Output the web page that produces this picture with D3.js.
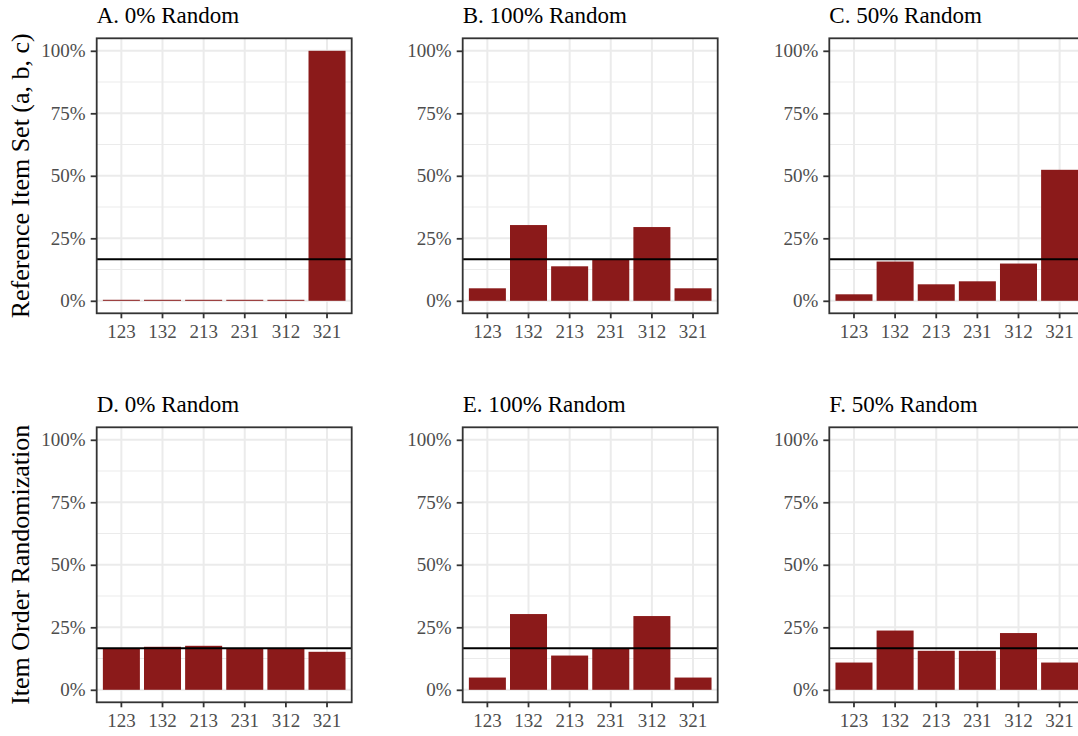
<!DOCTYPE html>
<html>
<head>
<meta charset="utf-8">
<script src="https://cdn.jsdelivr.net/npm/d3@7"></script>
<style>
  body { margin: 0; background: #fff; overflow: hidden; }
  text { font-family: "Liberation Serif", "DejaVu Serif", serif; }
</style>
</head>
<body>
<div id="chart"></div>
<script>
// orderings on the x axis
const categories = ["123", "132", "213", "231", "312", "321"];

// panel titles, row by row
const panelTitles = ["A. 0% Random", "B. 100% Random", "C. 50% Random",
                     "D. 0% Random", "E. 100% Random", "F. 50% Random"];
const rowTitles = ["Reference Item Set (a, b, c)", "Item Order Randomization"];

// share of responses per ordering
const valuesA = [0.004, 0.004, 0.004, 0.004, 0.004, 1.00];
const valuesB = [0.050, 0.303, 0.138, 0.164, 0.295, 0.050];
const valuesC = [0.026, 0.157, 0.066, 0.078, 0.149, 0.524];
const valuesD = [0.166, 0.172, 0.176, 0.166, 0.166, 0.152];
const valuesE = [0.049, 0.303, 0.137, 0.164, 0.295, 0.049];
const valuesF = [0.109, 0.237, 0.156, 0.156, 0.227, 0.109];
const panelValues = [valuesA, valuesB, valuesC, valuesD, valuesE, valuesF];

// uniform reference (1 of 6 orderings)
const refLine = 1 / 6;
const yTicks = [0, 0.25, 0.5, 0.75, 1];
const yMinor = [0.125, 0.375, 0.625, 0.875];

const W = 1078, H = 736;
const colX = [96.7, 462.7, 829.3];
const rowY = [38.3, 427.3];
const pw = 255, ph = 275;

const svg = d3.select("#chart")
    .append("svg")
    .attr("width", W)
    .attr("height", H);

const x = d3.scaleBand()
    .domain(categories)
    .range([0, pw])
    .paddingInner(0.1)
    .paddingOuter(0.15);

const y = d3.scaleLinear()
    .domain([-0.05, 1.05])
    .range([ph, 0]);

const fmt = d3.format(".0%");

panelValues.forEach((vals, i) => {
    const row = Math.floor(i / 3), col = i % 3;
    const g = svg.append("g")
        .attr("transform", `translate(${colX[col]},${rowY[row]})`);

    // grid
    g.selectAll(".minor").data(yMinor).enter().append("line")
        .attr("x1", 0).attr("x2", pw)
        .attr("y1", d => y(d)).attr("y2", d => y(d))
        .attr("stroke", "#ebebeb").attr("stroke-width", 1.1);
    g.selectAll(".majorY").data(yTicks).enter().append("line")
        .attr("x1", 0).attr("x2", pw)
        .attr("y1", d => y(d)).attr("y2", d => y(d))
        .attr("stroke", "#ebebeb").attr("stroke-width", 2);
    g.selectAll(".majorX").data(categories).enter().append("line")
        .attr("y1", 0).attr("y2", ph)
        .attr("x1", d => x(d) + x.bandwidth() / 2)
        .attr("x2", d => x(d) + x.bandwidth() / 2)
        .attr("stroke", "#ebebeb").attr("stroke-width", 2);

    // bars
    g.selectAll("rect.bar").data(vals).enter().append("rect")
        .attr("class", "bar")
        .attr("x", (d, j) => x(categories[j]))
        .attr("width", x.bandwidth())
        .attr("y", d => y(d))
        .attr("height", d => y(0) - y(d))
        .attr("fill", "#8B1A1A");

    // reference line
    g.append("line")
        .attr("x1", 0).attr("x2", pw)
        .attr("y1", y(refLine)).attr("y2", y(refLine))
        .attr("stroke", "#000").attr("stroke-width", 2);

    // panel border
    g.append("rect")
        .attr("width", pw).attr("height", ph)
        .attr("fill", "none")
        .attr("stroke", "#333").attr("stroke-width", 1.8);

    // axes
    const yAxis = g.append("g")
        .call(d3.axisLeft(y).tickValues(yTicks).tickFormat(fmt).tickSize(6).tickPadding(5));
    yAxis.select(".domain").remove();
    yAxis.selectAll("line").attr("stroke", "#333").attr("stroke-width", 1.8);
    yAxis.selectAll("text").attr("fill", "#4d4d4d").style("font-size", "19px")
        .style("font-family", "Liberation Serif, serif");

    const xAxis = g.append("g")
        .attr("transform", `translate(0,${ph})`)
        .call(d3.axisBottom(x).tickSize(5).tickPadding(6));
    xAxis.select(".domain").remove();
    xAxis.selectAll("line").attr("stroke", "#333").attr("stroke-width", 1.8);
    xAxis.selectAll("text").attr("fill", "#4d4d4d").style("font-size", "19px")
        .style("font-family", "Liberation Serif, serif");

    // title
    g.append("text")
        .attr("x", 0).attr("y", -15)
        .style("font-size", "23px")
        .attr("fill", "#000")
        .text(panelTitles[i]);
});

// row titles
rowTitles.forEach((t, r) => {
    svg.append("text")
        .attr("transform", `translate(29,${rowY[r] + ph / 2}) rotate(-90)`)
        .attr("text-anchor", "middle")
        .style("font-size", "26px")
        .attr("fill", "#000")
        .text(t);
});
</script>
</body>
</html>
